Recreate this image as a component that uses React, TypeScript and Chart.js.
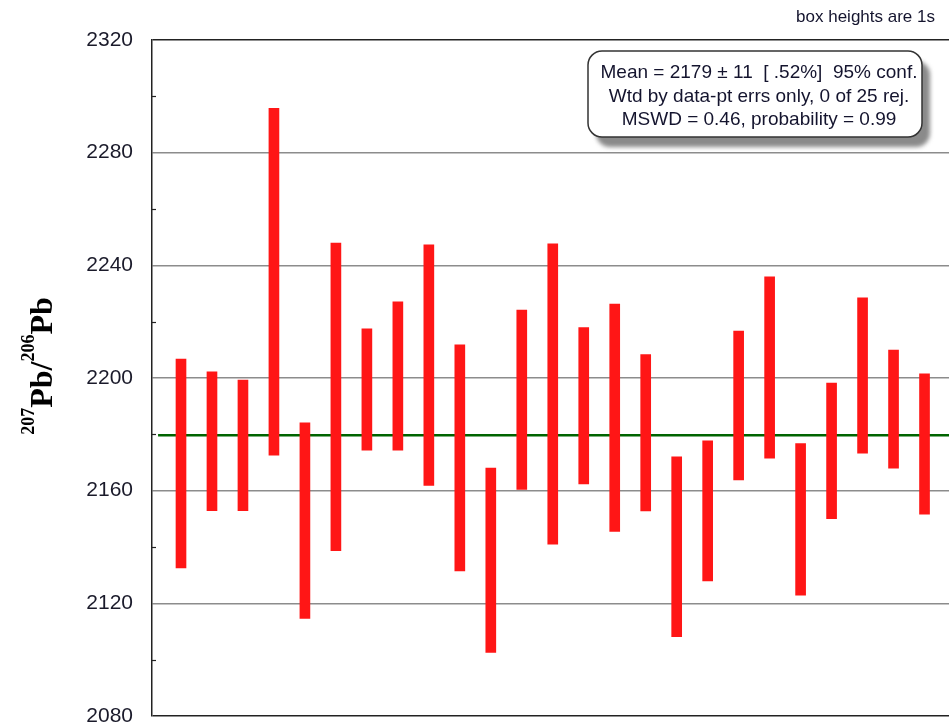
import { useEffect, useRef } from "react";
import { Chart, registerables } from "chart.js";

Chart.register(...registerables);

const spotIndex = [1, 2, 3, 4, 5, 6, 7, 8, 9, 10, 11, 12, 13, 14, 15, 16, 17, 18, 19, 20, 21, 22, 23, 24, 25];
const boxLow = [2132.6, 2152.9, 2152.9, 2172.6, 2114.6, 2138.7, 2174.4, 2174.4, 2161.9, 2131.5, 2102.6, 2160.4, 2141.0, 2162.4, 2145.5, 2152.8, 2108.2, 2128.0, 2163.8, 2171.5, 2122.9, 2150.1, 2173.3, 2168.0, 2151.7];
const boxHigh = [2206.7, 2202.2, 2199.3, 2295.7, 2184.1, 2247.9, 2217.5, 2227.0, 2247.3, 2211.8, 2168.0, 2224.1, 2247.6, 2217.9, 2226.2, 2208.3, 2172.0, 2177.7, 2216.7, 2235.9, 2176.7, 2198.2, 2228.5, 2209.9, 2201.5];
const meanValue = 2179.7;
const meanSpan = [0.26, 25.79];
const xRange = [0.064, 25.79];
const yRange = [2080, 2320];
const yStep = 40;
const minorTicks = [2100, 2140, 2180, 2220, 2260, 2300];
const infoLines = [
  "Mean = 2179 ± 11  [ .52%]  95% conf.",
  "Wtd by data-pt errs only, 0 of 25 rej.",
  "MSWD = 0.46, probability = 0.99",
];
const cornerNote = "box heights are 1s";
const titleParts = [
  { text: "207", sup: true },
  { text: "Pb/", sup: false },
  { text: "206", sup: true },
  { text: "Pb", sup: false },
];

const decorPlugin = {
  id: "decor",
  afterDraw(chart: any) {
    const ctx = chart.ctx as CanvasRenderingContext2D;
    const y = chart.scales.y;
    const area = chart.chartArea;
    ctx.save();

    // minor ticks (inward)
    ctx.strokeStyle = "#222";
    ctx.lineWidth = 1.2;
    for (const v of minorTicks) {
      const py = Math.round(y.getPixelForValue(v)) + 0.5;
      ctx.beginPath();
      ctx.moveTo(area.left, py);
      ctx.lineTo(area.left + 4, py);
      ctx.stroke();
    }

    // y title
    const mainFont = 'bold 32px "Liberation Serif", "Times New Roman", serif';
    const supFont = 'bold 18px "Liberation Serif", "Times New Roman", serif';
    let total = 0;
    const widths: number[] = [];
    for (const p of titleParts) {
      ctx.font = p.sup ? supFont : mainFont;
      const w = ctx.measureText(p.text).width;
      widths.push(w);
      total += w;
    }
    const cy = (area.top + area.bottom) / 2 - 12;
    ctx.translate(52, cy);
    ctx.rotate(-Math.PI / 2);
    ctx.fillStyle = "#000";
    ctx.textBaseline = "alphabetic";
    ctx.textAlign = "left";
    let u = -total / 2;
    titleParts.forEach((p, i) => {
      ctx.font = p.sup ? supFont : mainFont;
      ctx.fillText(p.text, u, p.sup ? -18 : 0);
      u += widths[i];
    });
    ctx.setTransform(1, 0, 0, 1, 0, 0);

    // info box
    const bx = 588, by = 51, bw = 334, bh = 86, r = 14;
    const rr = (x: number, yy: number) => {
      ctx.beginPath();
      ctx.moveTo(x + r, yy);
      ctx.lineTo(x + bw - r, yy);
      ctx.arcTo(x + bw, yy, x + bw, yy + r, r);
      ctx.lineTo(x + bw, yy + bh - r);
      ctx.arcTo(x + bw, yy + bh, x + bw - r, yy + bh, r);
      ctx.lineTo(x + r, yy + bh);
      ctx.arcTo(x, yy + bh, x, yy + bh - r, r);
      ctx.lineTo(x, yy + r);
      ctx.arcTo(x, yy, x + r, yy, r);
      ctx.closePath();
    };
    ctx.save();
    ctx.filter = "blur(2px)";
    ctx.fillStyle = "#8a8a8a";
    rr(bx + 8, by + 10);
    ctx.fill();
    ctx.restore();
    ctx.fillStyle = "#fff";
    rr(bx, by);
    ctx.fill();
    ctx.strokeStyle = "#333";
    ctx.lineWidth = 1.5;
    ctx.stroke();

    ctx.fillStyle = "#14142e";
    ctx.font = '19px "Liberation Sans", Arial, sans-serif';
    ctx.textAlign = "center";
    ctx.textBaseline = "middle";
    const lineYs = [73, 97, 120];
    infoLines.forEach((t, i) => ctx.fillText(t, bx + bw / 2 + 4, lineYs[i]));

    // corner note
    ctx.font = '17px "Liberation Sans", Arial, sans-serif';
    ctx.textAlign = "right";
    ctx.fillText(cornerNote, 935, 17);

    ctx.restore();
  },
};

export default function App() {
  const ref = useRef<HTMLCanvasElement | null>(null);

  useEffect(() => {
    if (!ref.current) return;
    const chart = new Chart(ref.current, {
      type: "bar",
      data: {
        datasets: [
          {
            type: "bar",
            data: spotIndex.map((x, i) => ({ x, y: [boxLow[i], boxHigh[i]] })) as any,
            backgroundColor: "#ff1616",
            borderWidth: 0,
            barThickness: 10,
            order: 1,
          },
          {
            type: "line",
            data: meanSpan.map((x) => ({ x, y: meanValue })) as any,
            borderColor: "#006400",
            borderWidth: 2.5,
            pointRadius: 0,
            fill: false,
            order: 2,
          },
        ],
      },
      options: {
        animation: false,
        responsive: false,
        layout: { padding: { top: 40, bottom: 11, left: 0, right: 0 } },
        plugins: { legend: { display: false }, tooltip: { enabled: false } },
        scales: {
          x: {
            type: "linear",
            min: xRange[0],
            max: xRange[1],
            offset: false,
            grid: { offset: false },
            display: false,
          },
          y: {
            min: yRange[0],
            max: yRange[1],
            afterFit: (s: any) => {
              s.width = 152;
              s.paddingTop = 10;
              s.paddingBottom = 10;
            },
            ticks: {
              stepSize: yStep,
              padding: 19,
              color: "#1a1a2a",
              font: { family: '"Liberation Sans", Arial, sans-serif', size: 21 },
              callback: (v: any) => String(v),
            },
            grid: {
              drawTicks: false,
              color: (c: any) =>
                c.tick && (c.tick.value === yRange[0] || c.tick.value === yRange[1]) ? "#222" : "#8c8c8c",
              lineWidth: 1.5,
            },
            border: { display: true, color: "#222", width: 1.5 },
          },
        },
      },
      plugins: [decorPlugin],
    } as any);
    return () => chart.destroy();
  }, []);

  return (
    <div style={{ position: "absolute", left: 0, top: 0, width: 949, height: 727, background: "#fff" }}>
      <canvas ref={ref} width={949} height={727} style={{ width: 949, height: 727, display: "block" }} />
    </div>
  );
}
